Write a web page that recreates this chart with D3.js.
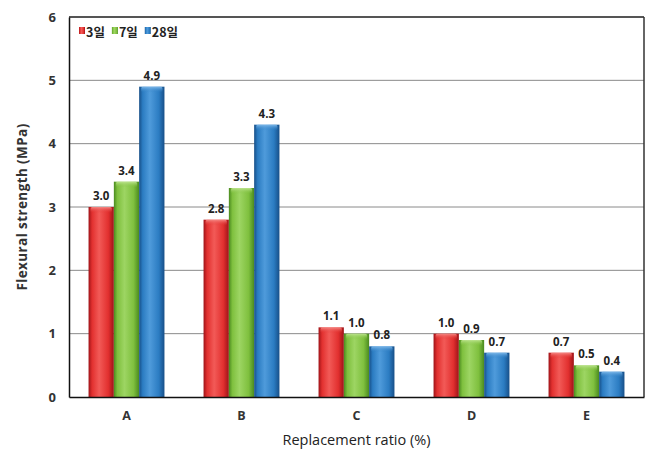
<!DOCTYPE html>
<html>
<head>
<meta charset="utf-8">
<script src="https://cdn.jsdelivr.net/npm/d3@7"></script>
<style>
  html, body { margin: 0; padding: 0; background: #fff; }
  svg { display: block; }
</style>
</head>
<body>
<svg id="chart" width="651" height="463"></svg>
<script>
// Flexural strength by replacement ratio, at 3, 7 and 28 days
const categories = ["A", "B", "C", "D", "E"];
const seriesNames = ["3일", "7일", "28일"];
const day3 = [3.0, 2.8, 1.1, 1.0, 0.7];
const day7 = [3.4, 3.3, 1.0, 0.9, 0.5];
const day28 = [4.9, 4.3, 0.8, 0.7, 0.4];
const yTicks = [0, 1, 2, 3, 4, 5, 6];

const series = [day3, day7, day28];
const palettes = [
  { edge: "#9e1318", mid: "#e2302f", light: "#f25a57", top: "#f58a86" },
  { edge: "#4a8a1f", mid: "#7fc03e", light: "#9dd563", top: "#bde48f" },
  { edge: "#174f88", mid: "#2b7cc2", light: "#4f9bdb", top: "#7fb9ea" }
];

const svg = d3.select("#chart");
const margin = { left: 69, right: 7, top: 17, bottom: 66 };
const W = 651, H = 463;
const x0 = margin.left, x1 = W - margin.right;
const y0 = H - margin.bottom, y1 = margin.top;

const x = d3.scaleBand().domain(categories).range([x0, x1]).paddingInner(0.34).paddingOuter(0.17);
const xs = d3.scaleBand().domain(d3.range(series.length)).range([0, x.bandwidth()]).padding(0);
const y = d3.scaleLinear().domain([0, 6]).range([y0, y1]);

// gradients for the rounded bar look
const defs = svg.append("defs");
palettes.forEach((p, i) => {
  const g = defs.append("linearGradient").attr("id", "bar" + i)
    .attr("x1", "0%").attr("x2", "100%").attr("y1", "0%").attr("y2", "0%");
  g.append("stop").attr("offset", "0%").attr("stop-color", p.edge);
  g.append("stop").attr("offset", "14%").attr("stop-color", p.mid);
  g.append("stop").attr("offset", "42%").attr("stop-color", p.light);
  g.append("stop").attr("offset", "78%").attr("stop-color", p.mid);
  g.append("stop").attr("offset", "100%").attr("stop-color", p.edge);
  const t = defs.append("linearGradient").attr("id", "cap" + i)
    .attr("x1", "0%").attr("x2", "0%").attr("y1", "0%").attr("y2", "100%");
  t.append("stop").attr("offset", "0%").attr("stop-color", p.top);
  t.append("stop").attr("offset", "100%").attr("stop-color", p.mid).attr("stop-opacity", 0);
});

const font = "'Open Sans', 'DejaVu Sans', sans-serif";

// gridlines
svg.append("g").selectAll("line").data(yTicks.filter(v => v > 0 && v < 6)).join("line")
  .attr("x1", x0).attr("x2", x1)
  .attr("y1", d => y(d)).attr("y2", d => y(d))
  .attr("stroke", "#8a8a8a").attr("stroke-width", 1);

// frame: top and right
svg.append("line").attr("x1", x0).attr("x2", x1).attr("y1", y(6)).attr("y2", y(6))
  .attr("stroke", "#555").attr("stroke-width", 2);
svg.append("line").attr("x1", x1).attr("x2", x1).attr("y1", y(6)).attr("y2", y0)
  .attr("stroke", "#333").attr("stroke-width", 1.5);

// bars
const groups = svg.append("g").selectAll("g").data(categories).join("g")
  .attr("transform", d => `translate(${x(d)},0)`);

series.forEach((vals, si) => {
  groups.append("rect")
    .attr("x", xs(si))
    .attr("y", (d, i) => y(vals[i]))
    .attr("width", xs.bandwidth())
    .attr("height", (d, i) => y0 - y(vals[i]))
    .attr("fill", `url(#bar${si})`);
  groups.append("rect")
    .attr("x", xs(si) + 2)
    .attr("y", (d, i) => y(vals[i]))
    .attr("width", xs.bandwidth() - 4)
    .attr("height", 6)
    .attr("rx", 2)
    .attr("fill", `url(#cap${si})`);
  groups.append("text")
    .attr("x", xs(si) + xs.bandwidth() / 2)
    .attr("y", (d, i) => y(vals[i]) - 7)
    .attr("text-anchor", "middle")
    .attr("font-family", font)
    .attr("font-weight", "bold")
    .attr("font-size", 11.5)
    .attr("fill", "#222")
    .text((d, i) => vals[i].toFixed(1));
});

// axes
const yAxis = svg.append("g").attr("transform", `translate(${x0},0)`)
  .call(d3.axisLeft(y).tickValues(yTicks).tickSize(0).tickPadding(13).tickFormat(d3.format("d")));
yAxis.select(".domain").attr("stroke", "#111").attr("stroke-width", 1.5);
yAxis.selectAll("text").attr("font-family", font)
  .attr("font-weight", "bold").attr("font-size", 13).attr("fill", "#333");

const xAxis = svg.append("g").attr("transform", `translate(0,${y0})`)
  .call(d3.axisBottom(x).tickSize(0).tickPadding(14));
xAxis.select(".domain").attr("stroke", "#111").attr("stroke-width", 1.5);
xAxis.selectAll("text").attr("font-family", font)
  .attr("font-weight", "bold").attr("font-size", 12.5).attr("fill", "#333");

// axis titles
svg.append("text")
  .attr("transform", `translate(27,${(y0 + y1) / 2}) rotate(-90)`)
  .attr("text-anchor", "middle")
  .attr("font-family", font)
  .attr("font-weight", "bold").attr("font-size", 13.5).attr("letter-spacing", 0.4)
  .attr("fill", "#333")
  .text("Flexural strength (MPa)");
svg.append("text")
  .attr("x", (x0 + x1) / 2).attr("y", 445)
  .attr("text-anchor", "middle")
  .attr("font-family", font)
  .attr("font-size", 14.5).attr("fill", "#222")
  .text("Replacement ratio (%)");

// legend
const legend = svg.append("g").attr("transform", "translate(79,33)");
let lx = 0;
seriesNames.forEach((name, i) => {
  const item = legend.append("g").attr("transform", `translate(${lx},0)`);
  item.append("rect").attr("x", 0).attr("y", -6).attr("width", 6).attr("height", 7)
    .attr("fill", `url(#bar${i})`);
  const t = item.append("text").attr("x", 7).attr("y", 4)
    .attr("font-family", "'Noto Sans CJK KR', sans-serif")
    .attr("font-weight", "bold").attr("font-size", 12.5).attr("fill", "#222")
    .text(name);
  lx += 7 + t.node().getComputedTextLength() + 7;
});
</script>
</body>
</html>
